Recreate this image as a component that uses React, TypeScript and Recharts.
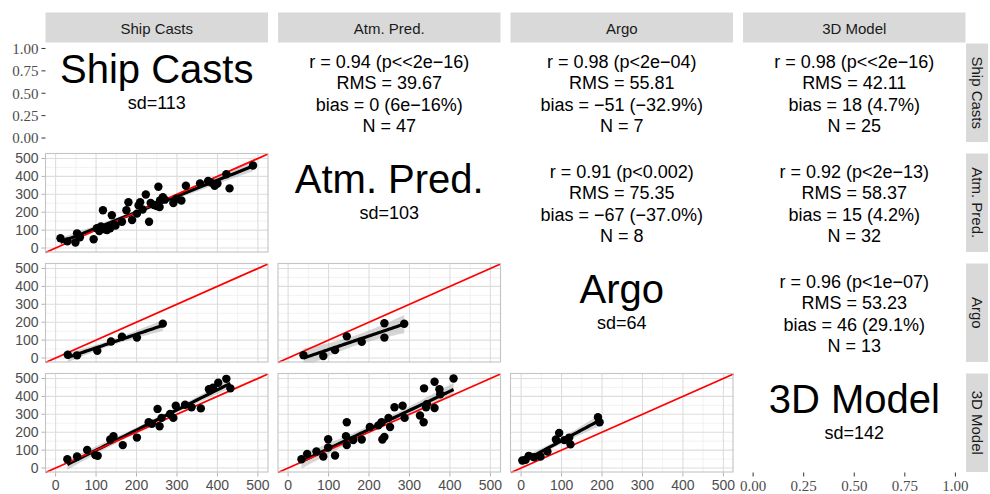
import { ComposedChart, Scatter, Line, Area, XAxis, YAxis, ReferenceLine, CartesianGrid } from 'recharts'

const VARS = ['Ship Casts', 'Atm. Pred.', 'Argo', '3D Model']
const SDS = ['sd=113', 'sd=103', 'sd=64', 'sd=142']
const MAJOR = [0, 100, 200, 300, 400, 500]
const MINOR = [50, 150, 250, 350, 450]
const UNIT_TICKS = [0, 0.25, 0.5, 0.75, 1]

// lower panels: x = column variable, y = row variable
const shipAtm = [
  [12, 55], [29, 37], [49, 31], [53, 82], [60, 60], [94, 49], [102, 110], [108, 95], [112, 120],
  [117, 211], [122, 105], [127, 101], [130, 118], [135, 110], [139, 183], [145, 130], [148, 125],
  [164, 147], [175, 211], [180, 256], [189, 156], [201, 192], [205, 238], [209, 256], [215, 215],
  [223, 299], [231, 147], [235, 251], [243, 240], [250, 235], [254, 342], [257, 229], [258, 265],
  [265, 284], [270, 270], [291, 251], [299, 275], [311, 265], [322, 348], [357, 361], [377, 375],
  [385, 365], [393, 348], [400, 360], [422, 412], [430, 333], [488, 461],
]
const shipArgo = [[30, 18], [53, 15], [103, 40], [137, 92], [164, 119], [201, 114], [265, 192]]
const atmArgo = [[38, 16], [87, 11], [116, 44], [145, 121], [182, 90], [238, 194], [238, 114], [287, 191]]
const shipModel = [
  [29, 49], [53, 64], [78, 101], [98, 73], [104, 68], [135, 159], [143, 178], [166, 128], [201, 170],
  [230, 256], [238, 247], [252, 330], [257, 233], [262, 280], [283, 302], [291, 280], [297, 348],
  [320, 353], [336, 339], [359, 333], [379, 440], [389, 449], [402, 476], [422, 498], [432, 445],
]
const atmModel = [
  [33, 49], [47, 79], [70, 92], [87, 64], [99, 161], [99, 115], [116, 70], [143, 178], [145, 256],
  [145, 128], [161, 156], [182, 159], [202, 229], [223, 238], [231, 256], [233, 159], [238, 174],
  [248, 280], [252, 229], [263, 339], [283, 348], [288, 280], [326, 293], [335, 256], [336, 445],
  [341, 339], [343, 357], [362, 482], [362, 335], [374, 440], [376, 412], [409, 500],
]
const argoModel = [
  [3, 42], [11, 46], [19, 68], [32, 60], [48, 64], [65, 92], [86, 159], [94, 196], [107, 156],
  [119, 170], [122, 132], [190, 284], [194, 256],
]

const LOWER = [
  { row: 1, col: 0, pts: shipAtm },
  { row: 2, col: 0, pts: shipArgo },
  { row: 2, col: 1, pts: atmArgo },
  { row: 3, col: 0, pts: shipModel },
  { row: 3, col: 1, pts: atmModel },
  { row: 3, col: 2, pts: argoModel },
]

const UPPER = [
  { row: 0, col: 1, lines: ['r = 0.94 (p<<2e\u221216)', 'RMS = 39.67', 'bias = 0 (6e\u221216%)', 'N = 47'] },
  { row: 0, col: 2, lines: ['r = 0.98 (p<2e\u221204)', 'RMS = 55.81', 'bias = \u221251 (\u221232.9%)', 'N = 7'] },
  { row: 0, col: 3, lines: ['r = 0.98 (p<<2e\u221216)', 'RMS = 42.11', 'bias = 18 (4.7%)', 'N = 25'] },
  { row: 1, col: 2, lines: ['r = 0.91 (p<0.002)', 'RMS = 75.35', 'bias = \u221267 (\u221237.0%)', 'N = 8'] },
  { row: 1, col: 3, lines: ['r = 0.92 (p<2e\u221213)', 'RMS = 58.37', 'bias = 15 (4.2%)', 'N = 32'] },
  { row: 2, col: 3, lines: ['r = 0.96 (p<1e\u221207)', 'RMS = 53.23', 'bias = 46 (29.1%)', 'N = 13'] },
]

const COL_X = [45.5, 278, 510.5, 743]
const ROW_Y = [43.5, 153.5, 263.5, 373.5]
const PW = 222.5
const PH = 98.5
const YW = 45.5
const XH = 22
const M = 12
const MARGIN = { top: M, right: M, bottom: M, left: M }
const DOMAIN: [number, number] = [-25, 525]
const UNIT_DOMAIN: [number, number] = [-0.05, 1.05]
const SANS = 'Liberation Sans, Arial, sans-serif'
const SERIF = 'Liberation Serif, Times New Roman, serif'

// t quantile (0.975) via Cornish-Fisher expansion
function tq(df: number) {
  const z = 1.959964
  const g1 = (z ** 3 + z) / 4
  const g2 = (5 * z ** 5 + 16 * z ** 3 + 3 * z) / 96
  const g3 = (3 * z ** 7 + 19 * z ** 5 + 17 * z ** 3 - 15 * z) / 384
  return z + g1 / df + g2 / df ** 2 + g3 / df ** 3
}

// lm fit + 95% confidence band, like geom_smooth(method = 'lm')
function lmBand(pts: number[][]) {
  const n = pts.length
  const mx = pts.reduce((s, p) => s + p[0], 0) / n
  const my = pts.reduce((s, p) => s + p[1], 0) / n
  let sxx = 0, sxy = 0
  pts.forEach(([x, y]) => { sxx += (x - mx) ** 2; sxy += (x - mx) * (y - my) })
  const b = sxy / sxx
  const a = my - b * mx
  const s2 = pts.reduce((s, [x, y]) => s + (y - a - b * x) ** 2, 0) / (n - 2)
  const t = tq(n - 2)
  const lo = Math.min(...pts.map(p => p[0]))
  const hi = Math.max(...pts.map(p => p[0]))
  return Array.from({ length: 40 }, (_, i) => {
    const x = lo + ((hi - lo) * i) / 39
    const fit = a + b * x
    const se = Math.sqrt(s2 * (1 / n + (x - mx) ** 2 / sxx))
    return { x, fit, band: [fit - t * se, fit + t * se] }
  })
}

const dot = (p: any) => <circle cx={p.cx} cy={p.cy} r={4.2} fill="#000" />

const sansTick = { fill: '#4D4D4D', fontSize: 14, fontFamily: SANS }
const serifTick = { fill: '#4D4D4D', fontSize: 15, fontFamily: SERIF }

function LowerPanel({ row, col, pts }: { row: number; col: number; pts: number[][] }) {
  const yw = col === 0 ? YW : 0
  const xh = row === 3 ? XH : 0
  const fit = lmBand(pts)
  const scatter = pts.map(([x, y]) => ({ x, y }))
  return (
    <div style={{ position: 'absolute', left: COL_X[col] - yw - M, top: ROW_Y[row] - M }}>
      <ComposedChart width={PW + yw + 2 * M} height={PH + xh + 2 * M} data={fit} margin={MARGIN}>
        <CartesianGrid horizontalValues={MINOR} verticalValues={MINOR} stroke="#EDEDED" strokeWidth={0.7} />
        <CartesianGrid horizontalValues={MAJOR} verticalValues={MAJOR} stroke="#DDDDDD" strokeWidth={1.1} />
        <XAxis
          type="number" dataKey="x" domain={DOMAIN} allowDataOverflow ticks={MAJOR} interval={0}
          hide={row !== 3} height={xh} tickSize={4} tickMargin={4} axisLine={false}
          tickLine={{ stroke: '#B3B3B3' }} tick={sansTick}
        />
        <YAxis
          type="number" dataKey="y" domain={DOMAIN} allowDataOverflow ticks={MAJOR} interval={0}
          hide={col !== 0} width={yw} tickSize={4} tickMargin={3} axisLine={false}
          tickLine={{ stroke: '#B3B3B3' }} tick={sansTick}
        />
        <Area dataKey="band" type="linear" stroke="none" fill="#999999" fillOpacity={0.4} isAnimationActive={false} />
        <Scatter data={scatter} dataKey="y" shape={dot} isAnimationActive={false} />
        <Line dataKey="fit" type="linear" stroke="#000" strokeWidth={3.2} dot={false} isAnimationActive={false} />
        <ReferenceLine
          segment={[{ x: DOMAIN[0], y: DOMAIN[0] }, { x: DOMAIN[1], y: DOMAIN[1] }]}
          stroke="#FF0000" strokeWidth={1.8} ifOverflow="visible"
        />
      </ComposedChart>
    </div>
  )
}

function UnitAxisPanel({ which }: { which: 'left' | 'bottom' }) {
  const left = which === 'left'
  const yw = left ? YW : 0
  const xh = left ? 0 : XH
  const idx = left ? 0 : 3
  return (
    <div style={{ position: 'absolute', left: COL_X[idx] - yw - M, top: ROW_Y[idx] - M }}>
      <ComposedChart width={PW + yw + 2 * M} height={PH + xh + 2 * M} data={[{ x: 0.5, y: 0.5 }]} margin={MARGIN}>
        <XAxis
          type="number" dataKey="x" domain={UNIT_DOMAIN} allowDataOverflow ticks={UNIT_TICKS} interval={0}
          hide={left} height={xh} tickSize={4} tickMargin={4} axisLine={false}
          tickLine={{ stroke: '#333333' }} tick={serifTick} tickFormatter={(v: number) => v.toFixed(2)}
        />
        <YAxis
          type="number" dataKey="y" domain={UNIT_DOMAIN} allowDataOverflow ticks={UNIT_TICKS} interval={0}
          hide={!left} width={yw} tickSize={4} tickMargin={3} axisLine={false}
          tickLine={{ stroke: '#333333' }} tick={serifTick} tickFormatter={(v: number) => v.toFixed(2)}
        />
        <Line dataKey="y" stroke="none" dot={false} isAnimationActive={false} />
      </ComposedChart>
    </div>
  )
}

export default function App() {
  return (
    <div style={{ position: 'absolute', left: 0, top: 0, width: 990, height: 494, background: '#fff', overflow: 'hidden' }}>
      {LOWER.map(p => <LowerPanel key={`${p.row}-${p.col}`} {...p} />)}
      <UnitAxisPanel which="left" />
      <UnitAxisPanel which="bottom" />
      <svg width={990} height={494} style={{ position: 'absolute', left: 0, top: 0, pointerEvents: 'none' }}>
        {/* column strips */}
        {VARS.map((v, i) => (
          <g key={'cs' + v}>
            <rect x={COL_X[i]} y={12.5} width={PW} height={30} fill="#D9D9D9" />
            <text x={COL_X[i] + PW / 2} y={28} textAnchor="middle" dominantBaseline="central" fontFamily={SANS} fontSize={15} fill="#1A1A1A">{v}</text>
          </g>
        ))}
        {/* row strips */}
        {VARS.map((v, i) => (
          <g key={'rs' + v}>
            <rect x={966} y={ROW_Y[i]} width={22} height={PH} fill="#D9D9D9" />
            <text
              x={977} y={ROW_Y[i] + PH / 2} textAnchor="middle" dominantBaseline="central"
              fontFamily={SANS} fontSize={15} fill="#1A1A1A" transform={`rotate(90 977 ${ROW_Y[i] + PH / 2})`}
            >{v}</text>
          </g>
        ))}
        {/* lower panel borders */}
        {LOWER.map(p => (
          <rect key={'b' + p.row + p.col} x={COL_X[p.col]} y={ROW_Y[p.row]} width={PW} height={PH} fill="none" stroke="#C4C4C4" strokeWidth={1.1} />
        ))}
        {/* diagonal labels */}
        {VARS.map((v, i) => (
          <g key={'d' + v}>
            <text x={COL_X[i] + PW / 2} y={ROW_Y[i] + 25} textAnchor="middle" dominantBaseline="central" fontFamily={SANS} fontSize={40} fill="#000">{v}</text>
            <text x={COL_X[i] + PW / 2} y={ROW_Y[i] + 59} textAnchor="middle" dominantBaseline="central" fontFamily={SANS} fontSize={18} fill="#000">{SDS[i]}</text>
          </g>
        ))}
        {/* upper correlation text */}
        {UPPER.map(u => (
          <g key={'u' + u.row + u.col}>
            {u.lines.map((l, k) => (
              <text key={k} x={COL_X[u.col] + PW / 2} y={ROW_Y[u.row] + 18.5 + 21.3 * k} textAnchor="middle" dominantBaseline="central" fontFamily={SANS} fontSize={18} fill="#000">{l}</text>
            ))}
          </g>
        ))}
      </svg>
    </div>
  )
}
